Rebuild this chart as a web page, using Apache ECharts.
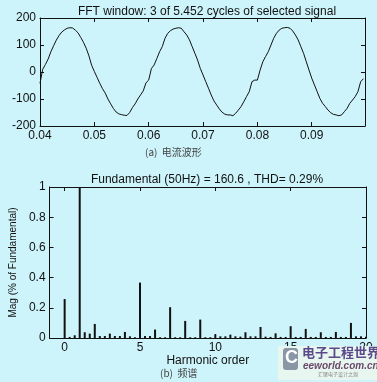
<!DOCTYPE html>
<html>
<head>
<meta charset="utf-8">
<script src="https://cdn.jsdelivr.net/npm/echarts@6/dist/echarts.min.js"></script>
<style>
  html, body { margin: 0; padding: 0; background: #cdf4fa; }
  #chart { width: 377px; height: 382px; }
</style>
</head>
<body>
<div id="chart"></div>
<script>
const waveStart = 0.04;
const waveStep = 0.0005;
const waveValues = [
  -42, 10, 28, 48, 75, 97, 118, 135, 148, 156,
  162, 164, 163, 155, 145, 128, 110, 88, 60, 25,
  2, -20, -42, -62, -78, -100, -118, -135, -148, -155,
  -158, -160, -161, -150, -132, -118, -100, -85, -70, -40,
  -30, 13, 26, 50, 75, 94, 125, 143, 153, 159,
  162, 164, 162, 149, 137, 119, 94, 69, 44, 13,
  -11, -36, -60, -85, -107, -122, -137, -149, -156, -159,
  -159, -162, -153, -141, -128, -110, -91, -73, -36, -30,
  -30, 7, 38, 57, 75, 100, 125, 143, 155, 162,
  164, 165, 162, 152, 137, 119, 94, 69, 38, 7,
  -23, -48, -73, -98, -116, -128, -141, -151, -157, -159,
  -162, -159, -147, -135, -116, -104, -91, -73, -36, -25
];
const waveTicks = [0.04, 0.05, 0.06, 0.07, 0.08, 0.09];

// harmonic spectrum, one bar every 1/3 harmonic order from 0 to 20
const harmonicMags = [
  0.258, 0.007, 0.018, 1.0, 0.038, 0.029, 0.093, 0.013, 0.013, 0.029,
  0.013, 0.013, 0.04, 0.011, 0.005, 0.367, 0.013, 0.013, 0.056, 0.005,
  0.005, 0.204, 0.005, 0.005, 0.113, 0.005, 0.005, 0.122, 0.005, 0.005,
  0.024, 0.011, 0.011, 0.022, 0.011, 0.009, 0.038, 0.011, 0.011, 0.073,
  0.009, 0.007, 0.031, 0.007, 0.007, 0.078, 0.007, 0.007, 0.06, 0.007,
  0.007, 0.038, 0.007, 0.007, 0.04, 0.007, 0.007, 0.1, 0.011, 0.011,
  0.009
];
const harmonicTicks = [0, 5, 10, 15, 20];

const font = "'Liberation Sans', Arial, sans-serif";
const cjk = "'Noto Sans CJK SC', sans-serif";
const ink = "#111";

const waveData = waveValues.map((v, i) => [waveStart + i * waveStep, v]);
const barData = harmonicMags.map((v, i) => [i / 3, v]);

const tick = (values) => ({
  show: true, inside: true, length: 4, customValues: values, lineStyle: { color: ink }
});

const boxAxis = (extra) => Object.assign({
  axisLine: { show: true, onZero: false, lineStyle: { color: ink, width: 1 } },
  axisTick: { show: true, inside: true, length: 4, lineStyle: { color: ink } },
  splitLine: { show: false },
  axisLabel: { show: false }
}, extra);

const label = { color: ink, fontSize: 12, fontFamily: font, margin: 4 };

const chart = echarts.init(document.getElementById("chart"));
chart.setOption({
  backgroundColor: "#cdf4fa",
  animation: false,
  title: [
    {
      text: "FFT window: 3 of 5.452 cycles of selected signal",
      left: 202, top: 1, textAlign: "center",
      textStyle: { fontSize: 12, fontWeight: "normal", color: ink, fontFamily: font }
    },
    {
      text: "Fundamental (50Hz) = 160.6 , THD= 0.29%",
      left: 202, top: 169, textAlign: "center",
      textStyle: { fontSize: 12, fontWeight: "normal", color: ink, fontFamily: font }
    }
  ],
  grid: [
    { left: 40, top: 18, width: 325, height: 108 },
    { left: 40, top: 187, width: 326, height: 151 }
  ],
  xAxis: [
    boxAxis({
      type: "value", gridIndex: 0, min: 0.04, max: 0.0998,
      axisTick: tick(waveTicks),
      axisLabel: Object.assign({ show: true, customValues: waveTicks, formatter: (v) => v.toFixed(2) }, label)
    }),
    boxAxis({
      type: "value", gridIndex: 0, position: "top", min: 0.04, max: 0.0998,
      axisTick: tick(waveTicks)
    }),
    boxAxis({
      type: "value", gridIndex: 1, min: -1, max: 20,
      axisTick: tick(harmonicTicks),
      axisLabel: Object.assign({ show: true, customValues: harmonicTicks }, label),
      name: "Harmonic order", nameLocation: "middle", nameGap: 15,
      nameTextStyle: { color: ink, fontSize: 12, fontFamily: font }
    }),
    boxAxis({
      type: "value", gridIndex: 1, position: "top", min: -1, max: 20,
      axisTick: tick(harmonicTicks)
    })
  ],
  yAxis: [
    boxAxis({
      type: "value", gridIndex: 0, min: -200, max: 200, interval: 100,
      axisLabel: Object.assign({ show: true }, label)
    }),
    boxAxis({ type: "value", gridIndex: 0, position: "right", min: -200, max: 200, interval: 100 }),
    boxAxis({
      type: "value", gridIndex: 1, min: 0, max: 1, interval: 0.2,
      axisLabel: Object.assign({ show: true }, label),
      name: "Mag (% of Fundamental)", nameLocation: "middle", nameGap: 26,
      nameTextStyle: { color: ink, fontSize: 10, fontFamily: font }
    }),
    boxAxis({ type: "value", gridIndex: 1, position: "right", min: 0, max: 1, interval: 0.2 })
  ],
  series: [
    {
      type: "line", xAxisIndex: 0, yAxisIndex: 0, data: waveData,
      symbol: "none", lineStyle: { color: ink, width: 1 }
    },
    {
      type: "bar", xAxisIndex: 2, yAxisIndex: 2, data: barData,
      barWidth: 2, itemStyle: { color: ink }
    }
  ],
  graphic: [
    {
      type: "text", left: 145, top: 147,
      style: { text: "(a)  电流波形", fontSize: 10, fill: "#444", fontFamily: cjk }
    },
    {
      type: "text", left: 160, top: 368,
      style: { text: "(b)  频谱", fontSize: 10, fill: "#444", fontFamily: cjk }
    },
    {
      type: "rect", shape: { x: 278, y: 346, width: 99, height: 34 },
      style: { fill: "#e8f6f0" }, z: 10
    },
    {
      type: "rect", shape: { x: 283, y: 348, width: 15, height: 22, r: 3 },
      style: { fill: "#8a96a6" }, z: 11
    },
    {
      type: "text", x: 285, y: 349, z: 12,
      style: { text: "C", fontSize: 18, fontWeight: "bold", fill: "#fff", fontFamily: font }
    },
    {
      type: "text", x: 302, y: 346, z: 12,
      style: { text: "电子工程世界", fontSize: 13, fontWeight: "bold", fill: "#5a4a8a", fontFamily: cjk }
    },
    {
      type: "text", x: 303, y: 361, z: 12,
      style: { text: "eeworld.com.cn", fontSize: 10, fontStyle: "italic", fontWeight: "bold", fill: "#6a4a6a", fontFamily: font }
    },
    {
      type: "text", x: 318, y: 372, z: 12,
      style: { text: "汇聚电子设计之源", fontSize: 5, fill: "#888", fontFamily: cjk }
    }
  ]
});
</script>
</body>
</html>
